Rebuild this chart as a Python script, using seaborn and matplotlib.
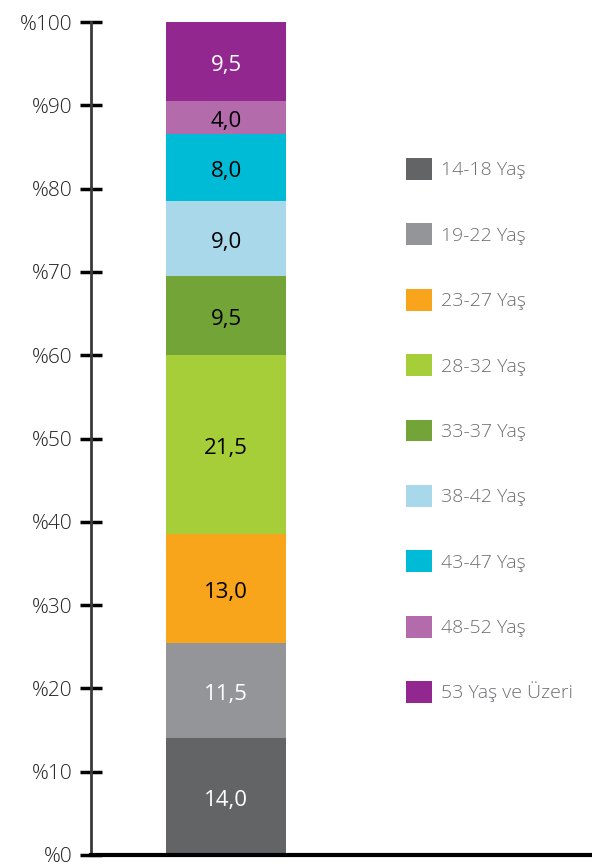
import matplotlib
matplotlib.use('Agg')
import matplotlib.pyplot as plt
import seaborn as sns
from matplotlib.patches import Patch

# Age group shares (%), bottom to top
groups = ['14-18 Yaş', '19-22 Yaş', '23-27 Yaş', '28-32 Yaş', '33-37 Yaş',
          '38-42 Yaş', '43-47 Yaş', '48-52 Yaş', '53 Yaş ve Üzeri']
shares = [14.0, 11.5, 13.0, 21.5, 9.5, 9.0, 8.0, 4.0, 9.5]
colors = ['#636466', '#939598', '#f9a51b', '#a6ce39', '#72a437',
          '#a8d8ea', '#00bbd6', '#b36bab', '#92278f']
label_colors = ['white', 'white', 'black', 'black', 'black',
                'black', 'black', 'black', 'white']
yticks = [0, 10, 20, 30, 40, 50, 60, 70, 80, 90, 100]

sns.set_style('white')
plt.rcParams['font.family'] = ['Open Sans', 'DejaVu Sans']

fig = plt.figure(figsize=(5.92, 8.66), dpi=100)
ax = fig.add_axes([91 / 592, 11 / 866, 501 / 592, 833 / 866])

bottom = 0
for g, v, c, lc in zip(groups, shares, colors, label_colors):
    sns.barplot(x=['all'], y=[v], bottom=bottom, color=c, width=0.8,
                saturation=1, linewidth=0, ax=ax)
    ax.bar_label(ax.containers[-1], labels=[f'{v:.1f}'.replace('.', ',')],
                 label_type='center', color=lc, fontsize=16,
                 padding=-3)
    bottom += v

ax.set_xlim(-0.9, 2.44)
ax.set_ylim(0, 100)
ax.set_yticks(yticks)
ax.set_yticklabels([f'%{t}' for t in yticks], fontsize=15, color='#222222',
                   fontweight='light')
ax.set_xticks([])
ax.set_xlabel('')
ax.set_ylabel('')
ax.tick_params(axis='y', direction='inout', length=16, width=2.5,
               color='black', pad=5, left=True)

for s in ['top', 'right']:
    ax.spines[s].set_visible(False)
ax.spines['left'].set_color('#3a3a3a')
ax.spines['left'].set_linewidth(2)
ax.spines['bottom'].set_color('black')
ax.spines['bottom'].set_linewidth(3)

handles = [Patch(facecolor=c, edgecolor='none') for c in colors]
fs = 14
fig.legend(handles, groups, loc='upper left',
           bbox_to_anchor=(406 / 592, 1 - 158 / 866),
           frameon=False, prop={'size': fs, 'weight': 'light'},
           labelcolor='#6d6e71',
           handlelength=1.35, handleheight=1.35, handletextpad=0.45,
           labelspacing=2.24, borderpad=0, borderaxespad=0)

fig.savefig('out.png', dpi=100)
